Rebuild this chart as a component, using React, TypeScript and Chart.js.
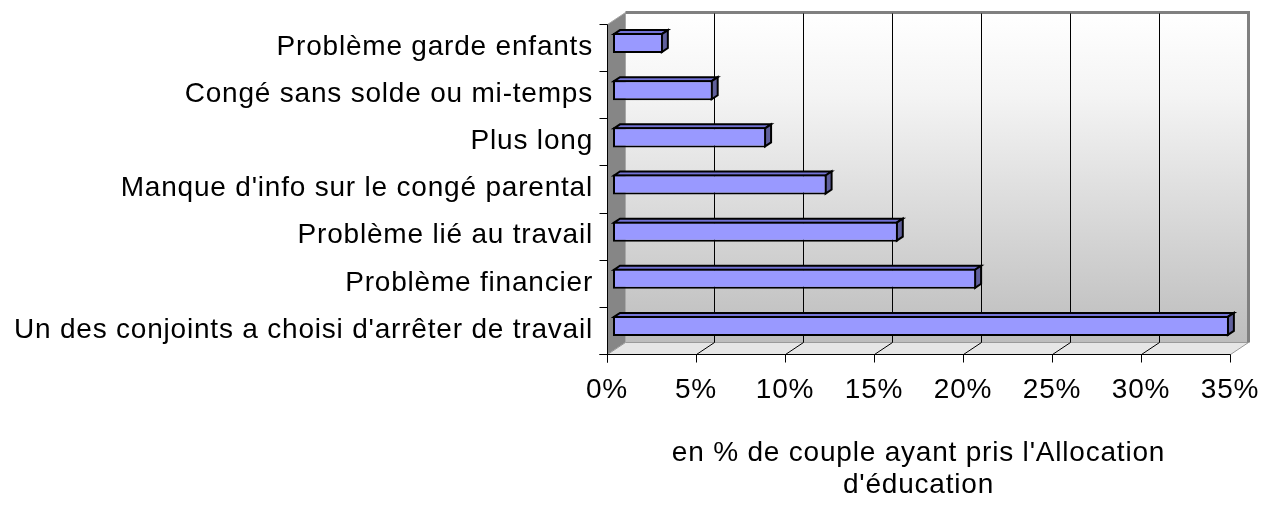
import React, { useEffect, useRef } from 'react';
import { Chart, registerables } from 'chart.js';

Chart.register(...registerables);

const categories = [
  'Problème garde enfants',
  'Congé sans solde ou mi-temps',
  'Plus long',
  "Manque d'info sur le congé parental",
  'Problème lié au travail',
  'Problème financier',
  "Un des conjoints a choisi d'arrêter de travail",
];
const values = [2.8, 5.6, 8.6, 12.0, 16.0, 20.4, 34.6];
const xTicks = [0, 5, 10, 15, 20, 25, 30, 35];
const axisTitle = ["en % de couple ayant pris l'Allocation", "d'éducation"];

// 3D geometry (pixels)
const BACK_DX = 18;
const BACK_DY = -12;
const BAR_DX = 6;
const BAR_DY = -4;

const threeD = {
  id: 'threeD',
  beforeDraw(chart: any) {
    (chart.ctx as any).letterSpacing = '0.8px';
  },
  afterDraw(chart: any) {
    (chart.ctx as any).letterSpacing = '0px';
  },
  beforeDatasetsDraw(chart: any) {
    const ctx = chart.ctx as CanvasRenderingContext2D;
    const xs = chart.scales.x;
    const ca = chart.chartArea;
    const fx = (v: number) => Math.round(xs.getPixelForValue(v) - BAR_DX) + 0.5;
    const fTop = Math.round(ca.top - BAR_DY) + 0.5;
    const fBot = Math.round(ca.bottom - BAR_DY) + 0.5;
    const x0 = fx(xTicks[0]);
    const x1 = fx(xTicks[xTicks.length - 1]);
    const bTop = fTop + BACK_DY;
    const bBot = fBot + BACK_DY;

    ctx.save();
    // back wall
    const g = ctx.createLinearGradient(0, bTop, 0, bBot);
    g.addColorStop(0, '#ffffff');
    g.addColorStop(0.25, '#f4f4f4');
    g.addColorStop(1, '#bdbdbd');
    ctx.fillStyle = g;
    ctx.fillRect(x0 + BACK_DX, bTop, x1 - x0, bBot - bTop);

    // left wall
    ctx.beginPath();
    ctx.moveTo(x0, fTop);
    ctx.lineTo(x0 + BACK_DX, bTop);
    ctx.lineTo(x0 + BACK_DX, bBot);
    ctx.lineTo(x0, fBot);
    ctx.closePath();
    ctx.fillStyle = '#868686';
    ctx.fill();
    ctx.strokeStyle = '#a8a8a8';
    ctx.lineWidth = 1;
    ctx.stroke();

    // floor
    ctx.beginPath();
    ctx.moveTo(x0, fBot);
    ctx.lineTo(x0 + BACK_DX, bBot);
    ctx.lineTo(x1 + BACK_DX, bBot);
    ctx.lineTo(x1, fBot);
    ctx.closePath();
    ctx.fillStyle = '#e6e6e6';
    ctx.fill();
    ctx.strokeStyle = '#9a9a9a';
    ctx.stroke();

    // back wall border
    ctx.strokeStyle = '#808080';
    ctx.lineWidth = 3;
    ctx.beginPath();
    ctx.moveTo(x0 + BACK_DX, bTop);
    ctx.lineTo(x1 + BACK_DX, bTop);
    ctx.lineTo(x1 + BACK_DX, bBot);
    ctx.stroke();

    // gridlines
    ctx.strokeStyle = '#000';
    ctx.lineWidth = 1;
    xTicks.slice(1, -1).forEach((v) => {
      const x = fx(v);
      ctx.beginPath();
      ctx.moveTo(x + BACK_DX, bTop + 1);
      ctx.lineTo(x + BACK_DX, bBot);
      ctx.lineTo(x, fBot);
      ctx.stroke();
    });

    // axes
    ctx.beginPath();
    ctx.moveTo(x0 - 8, fBot);
    ctx.lineTo(x1, fBot);
    ctx.moveTo(x0, fTop);
    ctx.lineTo(x0, fBot + 8);
    xTicks.forEach((v) => {
      const x = fx(v);
      ctx.moveTo(x, fBot);
      ctx.lineTo(x, fBot + 8);
    });
    const n = categories.length;
    for (let i = 0; i <= n; i++) {
      const y = Math.round(fTop + (i * (fBot - fTop)) / n - 0.5) + 0.5;
      ctx.moveTo(x0 - 8, y);
      ctx.lineTo(x0, y);
    }
    ctx.stroke();

    // bar depth faces
    const meta = chart.getDatasetMeta(0);
    ctx.lineWidth = 2;
    ctx.lineJoin = 'miter';
    ctx.strokeStyle = '#000';
    meta.data.forEach((el: any) => {
      const { x, y, base, height } = el.getProps(['x', 'y', 'base', 'height'], true);
      const top = y - height / 2;
      const bot = y + height / 2;
      // top face
      ctx.beginPath();
      ctx.moveTo(base + 1, top + 1);
      ctx.lineTo(base + 1 + BAR_DX, top + 1 + BAR_DY);
      ctx.lineTo(x - 1 + BAR_DX, top + 1 + BAR_DY);
      ctx.lineTo(x - 1, top + 1);
      ctx.closePath();
      ctx.fillStyle = '#7373d6';
      ctx.fill();
      ctx.stroke();
      // right face
      ctx.beginPath();
      ctx.moveTo(x - 1, top + 1);
      ctx.lineTo(x - 1 + BAR_DX, top + 1 + BAR_DY);
      ctx.lineTo(x - 1 + BAR_DX, bot - 1 + BAR_DY);
      ctx.lineTo(x - 1, bot - 1);
      ctx.closePath();
      ctx.fillStyle = '#60609c';
      ctx.fill();
      ctx.stroke();
    });
    ctx.restore();
  },
};

const zeroPad = (s: any) => {
  s.paddingLeft = 0;
  s.paddingRight = 0;
  s.paddingTop = 0;
  s.paddingBottom = 0;
};

export default function App() {
  const ref = useRef<HTMLCanvasElement | null>(null);

  useEffect(() => {
    if (!ref.current) return;
    Chart.defaults.font.family = '"Liberation Sans", Arial, sans-serif';
    Chart.defaults.color = '#000';
    const chart = new Chart(ref.current, {
      type: 'bar',
      data: {
        labels: categories,
        datasets: [
          {
            data: values,
            backgroundColor: '#9999ff',
            borderColor: '#000',
            borderWidth: 2,
            borderSkipped: false,
            barPercentage: 0.425,
            categoryPercentage: 1,
          },
        ],
      },
      options: {
        indexAxis: 'y',
        animation: false,
        responsive: true,
        maintainAspectRatio: false,
        layout: { padding: { left: 0, right: 25, top: 19.5, bottom: 0 } },
        plugins: { legend: { display: false }, tooltip: { enabled: false } },
        scales: {
          x: {
            type: 'linear',
            position: 'bottom',
            min: 0,
            max: 35,
            grid: { display: false, drawTicks: false },
            border: { display: false },
            afterBuildTicks: (s: any) => {
              s.ticks = xTicks.map((v) => ({ value: v }));
            },
            ticks: {
              callback: (v: any) => v + '%',
              padding: 24,
              labelOffset: -6,
              font: { size: 28 },
              color: '#000',
              maxRotation: 0,
              autoSkip: false,
            },
            title: {
              display: true,
              text: axisTitle,
              font: { size: 28, lineHeight: '32px' },
              color: '#000',
              padding: { top: 0, bottom: 4.5 },
            },
            afterFit: (s: any) => {
              s.height = 156.5;
              zeroPad(s);
              if (!s.__shifted) {
                s.__shifted = true;
                const orig = s.drawTitle;
                s.drawTitle = function (...args: any[]) {
                  const c = this.ctx;
                  c.save();
                  c.translate(-6, 0);
                  orig.apply(this, args);
                  c.restore();
                };
              }
            },
          },
          y: {
            type: 'category',
            grid: { display: false, drawTicks: false },
            border: { display: false },
            ticks: {
              padding: 20,
              labelOffset: 4,
              font: { size: 28 },
              color: '#000',
              autoSkip: false,
            },
            afterFit: (s: any) => {
              s.width = 613;
              zeroPad(s);
            },
          },
        },
      } as any,
      plugins: [threeD],
    });
    return () => chart.destroy();
  }, []);

  return (
    <div style={{ position: 'absolute', left: 0, top: 0, width: 1261, height: 506, background: '#fff' }}>
      <canvas ref={ref} />
    </div>
  );
}
